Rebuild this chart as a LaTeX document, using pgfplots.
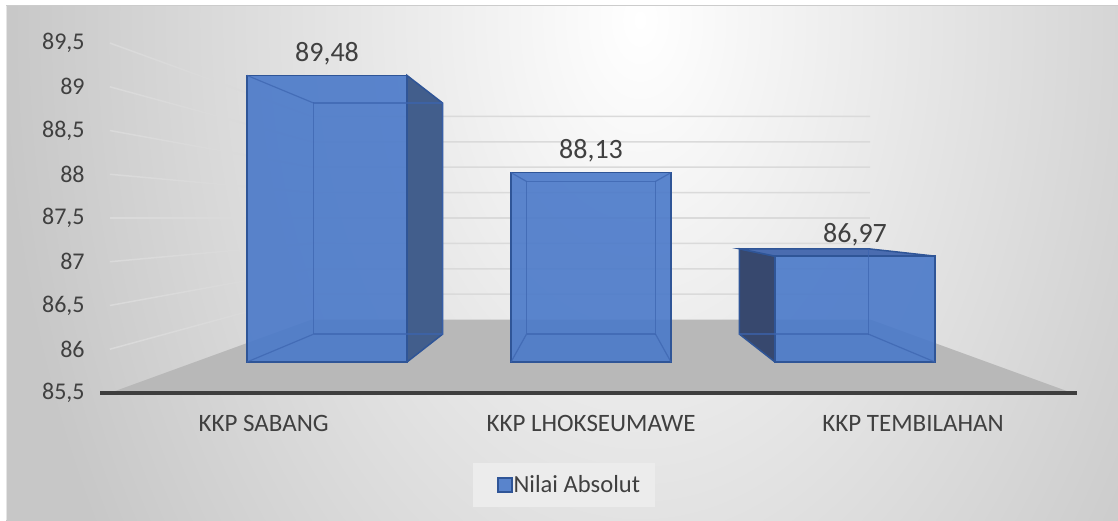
\documentclass[border=0pt]{standalone}
\usepackage{pgfplots}
\pgfplotsset{compat=1.18}
\usepackage{pgfplotstable}
\usepackage{fontspec}
\setmainfont{Carlito}
\definecolor{txt}{RGB}{64,64,64}
\definecolor{barfront}{RGB}{74,121,201}
\definecolor{baredge}{RGB}{47,85,151}
\definecolor{barside}{RGB}{66,94,140}
\definecolor{barsideL}{RGB}{55,72,110}
\definecolor{bartop}{RGB}{74,108,176}
\definecolor{barinner}{RGB}{60,100,175}
\definecolor{floorc}{RGB}{184,184,184}
\definecolor{gridc}{RGB}{218,218,218}
\definecolor{edgeline}{RGB}{62,62,62}
\definecolor{legbg}{RGB}{236,236,236}
\definecolor{bgout}{RGB}{199,199,199}
\pgfdeclareradialshading{bgshade}{\pgfpointorigin}{color(0bp)=(white); color(25bp)=(bgout); color(50bp)=(bgout)}

\pgfplotstableread{
c v
0 89.48
1 88.13
2 86.97
}\datatable

% perspective helper: columns c (category), s (side -1/0/1), y (value), r (depth ratio)
\newcommand\poly[2]{\addplot[mark=none, forget plot, #1] table[row sep=\\,
  x expr={1+\thisrow{r}*(\thisrow{c}+0.303*\thisrow{s}-1)},
  y expr={2+\thisrow{r}*(\thisrow{y}-87.5)}] {c s y r\\ #2};}

\begin{document}
\begin{tikzpicture}
\fill[white] (0,0) rectangle (559pt,260pt);
\begin{scope}
\clip (3pt,0) rectangle (559pt,257pt);
\fill[bgout] (0pt,-5pt) rectangle (565pt,265pt);
\shade[shading=bgshade] (0pt,-240pt) rectangle (640pt,740pt);
\end{scope}
\draw[black!20, line width=0.5pt] (3pt,257pt) -- (559pt,257pt);
\draw[white!90!black, line width=0.4pt] (3.2pt,0) -- (3.2pt,257pt);
\begin{axis}[
  at={(0,0)}, anchor=south west,
  x=132pt, y=36pt,
  xmin=-1.2386, xmax=2.9962, ymin=-2.1944, ymax=5.0278,
  axis line style={draw=none},
  tick style={draw=none},
  ytick={-0.43,0.1775,0.785,1.3925,2,2.6075,3.215,3.8225,4.43},
  yticklabels={{85,5},{86},{86,5},{87},{87,5},{88},{88,5},{89},{89,5}},
  yticklabel style={anchor=east, xshift=42.5pt, inner sep=0pt, font=\fontsize{12}{14}\selectfont, text=txt},
  xtick={-0.24,1,2.22},
  xticklabels={KKP SABANG, KKP LHOKSEUMAWE, KKP TEMBILAHAN},
  xticklabel style={anchor=center, yshift=48.5pt, inner sep=0pt, font=\fontsize{12.5}{14}\selectfont, text=txt},
  legend style={at={(axis cs:0.898,-1.708)}, anchor=center, fill=legbg, draw=none,
    font=\fontsize{12.3}{14}\selectfont, text=txt, inner xsep=7pt, inner ysep=4.5pt,
    nodes={inner xsep=0.5pt, inner ysep=1.5pt}},
  legend image code/.code={\path (-5pt,0pt); \draw[fill=barfront, draw=baredge, line width=0.75pt] (0pt,-3.5pt) rectangle (7pt,3.5pt);},
]
% walls gridlines
\pgfplotsinvokeforeach{86,86.5,87,87.5,88,88.5,89,89.5}{
  \poly{draw=gridc, line width=0.75pt}{-0.5 0 #1 1.215\\ -0.5 0 #1 0.705\\ 2.5 0 #1 0.705\\}
}
% floor
\poly{fill=floorc, draw=none}{-0.5 0 85.5 1.215\\ 2.5 0 85.5 1.215\\ 2.5 0 85.5 0.705\\ -0.5 0 85.5 0.705\\ -0.5 0 85.5 1.215\\}
% front edge line
\poly{draw=edgeline, line width=1.8pt}{-0.53 0 85.5 1.215\\ 2.515 0 85.5 1.215\\}
% bar 1 right side
\poly{fill=barside, draw=baredge, line width=0.75pt}{0 1 85.5 1\\ 0 1 85.5 0.806\\ 0 1 89.48 0.806\\ 0 1 89.48 1\\ 0 1 85.5 1\\}
% bar 3 left side and top
\poly{fill=barsideL, draw=baredge, line width=0.75pt}{2 -1 85.5 1\\ 2 -1 85.5 0.806\\ 2 -1 86.97 0.806\\ 2 -1 86.97 1\\ 2 -1 85.5 1\\}
\poly{fill=bartop, draw=baredge, line width=0.75pt}{2 -1 86.97 1\\ 2 1 86.97 1\\ 2 1 86.97 0.806\\ 2 -1 86.97 0.806\\ 2 -1 86.97 1\\}
% front faces
\addplot[ybar, bar width=0.606, fill=barfront, fill opacity=0.9, draw=baredge, line width=0.75pt,
  point meta=\thisrow{v},
  nodes near coords={\pgfmathprintnumber[fixed, precision=2, fixed zerofill, use comma, assume math mode=true]{\pgfplotspointmeta}},
  every node near coord/.append style={font=\fontsize{14}{16}\selectfont, text=txt, text opacity=1, yshift=1.5pt}]
  table[x=c, y expr=\thisrow{v}-85.5] {\datatable};
\addlegendentry{Nilai Absolut}
% inner (hidden) edges seen through the transparent faces
\poly{draw=barinner, draw opacity=0.7, line width=0.6pt}{0 -1 85.5 0.806\\ 0 1 85.5 0.806\\ 0 1 89.48 0.806\\ 0 -1 89.48 0.806\\ 0 -1 85.5 0.806\\}
\poly{draw=barinner, draw opacity=0.7, line width=0.6pt}{0 -1 85.5 1\\ 0 -1 85.5 0.806\\}
\poly{draw=barinner, draw opacity=0.7, line width=0.6pt}{0 -1 89.48 1\\ 0 -1 89.48 0.806\\}
\poly{draw=barinner, draw opacity=0.7, line width=0.6pt}{1 -1 85.5 0.806\\ 1 1 85.5 0.806\\ 1 1 88.13 0.806\\ 1 -1 88.13 0.806\\ 1 -1 85.5 0.806\\}
\poly{draw=barinner, draw opacity=0.7, line width=0.6pt}{1 -1 85.5 1\\ 1 -1 85.5 0.806\\}
\poly{draw=barinner, draw opacity=0.7, line width=0.6pt}{1 1 85.5 1\\ 1 1 85.5 0.806\\}
\poly{draw=barinner, draw opacity=0.7, line width=0.6pt}{1 -1 88.13 1\\ 1 -1 88.13 0.806\\}
\poly{draw=barinner, draw opacity=0.7, line width=0.6pt}{1 1 88.13 1\\ 1 1 88.13 0.806\\}
\poly{draw=barinner, draw opacity=0.7, line width=0.6pt}{2 -1 85.5 0.806\\ 2 1 85.5 0.806\\ 2 1 86.97 0.806\\}
\poly{draw=barinner, draw opacity=0.7, line width=0.6pt}{2 1 85.5 1\\ 2 1 85.5 0.806\\}
\end{axis}
\pgfresetboundingbox
\path (0,0) rectangle (559pt,260pt);
\end{tikzpicture}
\end{document}
